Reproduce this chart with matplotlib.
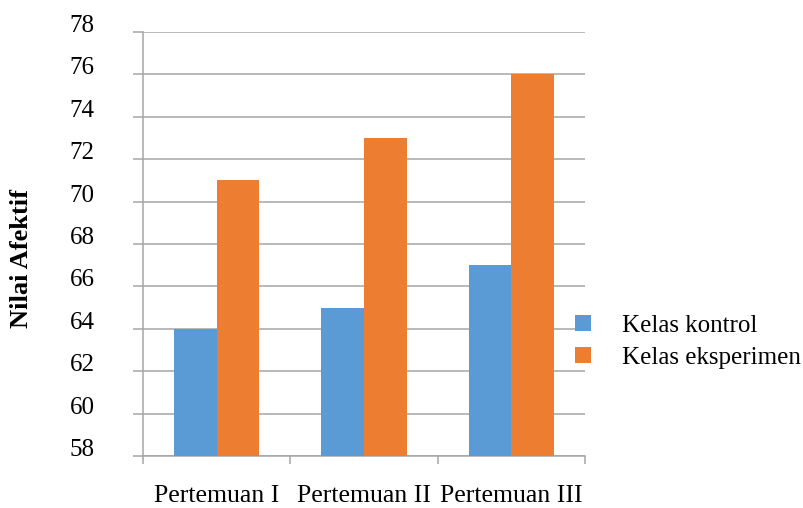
import numpy as np
import matplotlib.pyplot as plt

categories = ['Pertemuan I', 'Pertemuan II', 'Pertemuan III']
kontrol = [64, 65, 67]
eksperimen = [71, 73, 76]

plt.rcParams['font.family'] = ['Liberation Serif', 'DejaVu Serif']

fig = plt.figure(figsize=(8.04, 5.08), dpi=100)
ax = fig.add_axes([0.1779, 0.1024, 0.5498, 0.8346])

x = np.arange(len(categories))
w = 0.29
ax.bar(x - w / 2, kontrol, w, color='#5B9BD5', label='Kelas kontrol', zorder=3)
ax.bar(x + w / 2, eksperimen, w, color='#ED7D31', label='Kelas eksperimen', zorder=3)

ax.set_ylim(58, 78)
ax.set_yticks(range(58, 79, 2))
ax.set_xlim(-0.5, 2.5)
ax.set_xticks(x)
ax.set_xticklabels(categories)
ax.set_xticks([-0.5, 0.5, 1.5, 2.5], minor=True)
ax.tick_params(axis='x', which='major', length=0, pad=21, labelsize=18.5)
ax.tick_params(axis='x', which='minor', length=6, color='#a6a6a6', width=1.1)
ax.tick_params(axis='y', length=7, color='#a6a6a6', width=1.1, pad=28, labelsize=18)
for lbl in ax.get_yticklabels():
    lbl.set_va('baseline')

ax.yaxis.grid(True, color='#a6a6a6', linewidth=1.1, zorder=0)
for s in ['top', 'right']:
    ax.spines[s].set_visible(False)
for s in ['left', 'bottom']:
    ax.spines[s].set_color('#a6a6a6')
    ax.spines[s].set_linewidth(1.1)

ax.set_ylabel('Nilai Afektif', fontsize=19, fontweight='bold')
ax.yaxis.set_label_coords(-0.249, 0.465)

ax.legend(loc='center left', bbox_to_anchor=(0.6875, 0.327), bbox_transform=fig.transFigure,
          frameon=False, fontsize=18, handlelength=0.62, handleheight=0.62,
          handletextpad=1.25, labelspacing=0.4)

fig.savefig('out.png', dpi=100)
